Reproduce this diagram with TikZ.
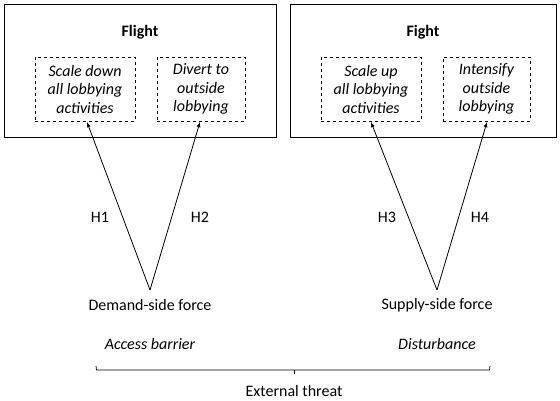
\documentclass[tikz,border=0pt]{standalone}
\usepackage{fontspec}
\setmainfont{Carlito}
\begin{document}
\begin{tikzpicture}[x=1pt,y=-1pt,
  outer/.style={draw,line width=0.9pt},
  inner/.style={draw,dashed,line width=0.6pt,minimum width=#1,minimum height=64pt,inner sep=0pt,align=center,font=\fontsize{16}{18.5}\selectfont\itshape},
  lbl/.style={font=\fontsize{16}{18.5}\selectfont,inner sep=0pt},
  title/.style={font=\fontsize{16}{18.5}\selectfont\bfseries,inner sep=0pt},
  arr/.style={-latex,line width=0.8pt}]
\useasboundingbox (0,0) rectangle (560,400);
\draw[outer] (4,4) rectangle (276,137);
\draw[outer] (290,4) rectangle (556,137);
\node[title] (flight) at (140,32) {Flight};
\node[title] (fight) at (423,32) {Fight};
\node[inner=100pt] (b1) at (85,89) {Scale down\\all lobbying\\activities};
\node[inner=88pt] (b2) at (201,89) {Divert to\\outside\\lobbying};
\node[inner=100pt] (b3) at (371,89) {Scale up\\all lobbying\\activities};
\node[inner=87pt] (b4) at (486.5,89) {Intensify\\outside\\lobbying};
\coordinate (a1) at (150,290);
\coordinate (a2) at (437,290);
\draw[arr] (a1) -- (87,122);
\draw[arr] (a1) -- (200,122);
\draw[arr] (a2) -- (371,122);
\draw[arr] (a2) -- (487,122);
\node[lbl] (h1) at (100,217) {H1};
\node[lbl] (h2) at (200,217) {H2};
\node[lbl] (h3) at (387,217) {H3};
\node[lbl] (h4) at (480,217) {H4};
\node[lbl] (dem) at (150,305) {Demand-side force};
\node[lbl] (sup) at (437,305) {Supply-side force};
\node[lbl,font=\fontsize{16}{18.5}\selectfont\itshape] (acc) at (150,344) {Access barrier};
\node[lbl,font=\fontsize{16}{18.5}\selectfont\itshape] (dis) at (437,344) {Disturbance};
\draw[line width=0.7pt] (96,366) -- (96.5,370) -- (489.5,370) -- (490,366);
\draw[line width=0.7pt] (294,370) -- (294,374);
\node[lbl] (ext) at (294,391) {External threat};
\end{tikzpicture}
\end{document}
